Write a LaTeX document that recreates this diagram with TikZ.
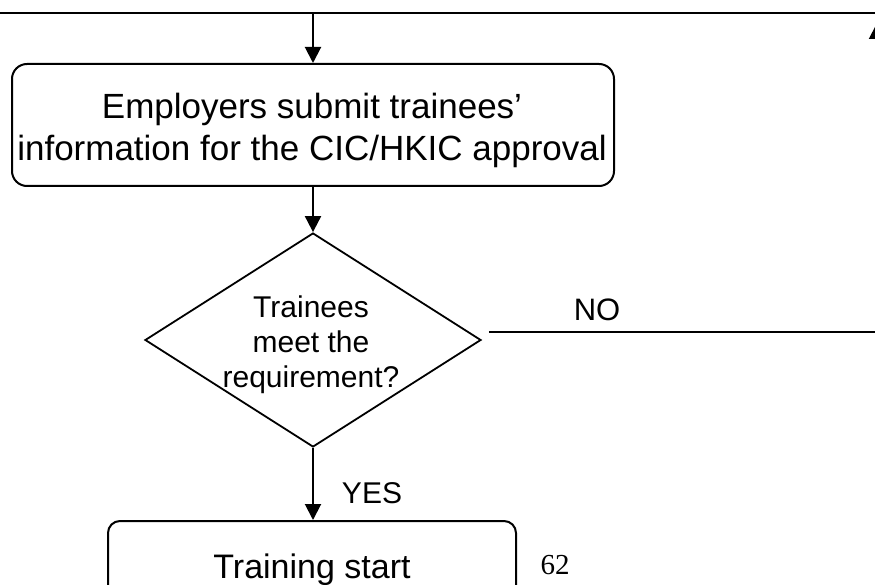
\documentclass[tikz,border=0pt]{standalone}
\usepackage{fontspec}
\setmainfont{Liberation Sans}
\newfontfamily\pagefont{Liberation Serif}
\usetikzlibrary{arrows.meta,shapes.geometric}
\begin{document}
\begin{tikzpicture}[x=1pt,y=-1pt,
  conn/.style={line width=2pt},
  arr/.style={conn,-{Triangle[length=16pt,width=16pt]}},
  procbox/.style={draw,line width=2pt,rounded corners=15pt,inner sep=0pt,align=center},
  decision/.style={draw,diamond,line width=1.8pt,inner sep=0pt,minimum width=336pt,minimum height=214pt},
  lbl/.style={inner sep=0pt,align=center}]
\useasboundingbox (0,0) rectangle (875,585);
\clip (0,0) rectangle (875,585);
\coordinate (topL) at (0,13);
\coordinate (topR) at (875,13);
\coordinate (loop) at (877,23);
\node[procbox,minimum width=602pt,minimum height=122pt] (box1) at (313,125) {};
\node[lbl,font=\fontsize{35}{42}\selectfont] (box1text) at (312,130)
  {Employers submit trainees’\\ information for the CIC/HKIC approval};
\node[decision] (dia) at (313,340) {};
\node[lbl,font=\fontsize{30}{35}\selectfont] (diatext) at (311,345) {Trainees\\ meet the\\ requirement?};
\node[procbox,minimum width=408pt,minimum height=98pt,rounded corners=12pt,font=\fontsize{34}{40}\selectfont] (box2) at (312,570)
  {Training start};
\node[lbl,font=\fontsize{31}{36}\selectfont] (no) at (597,310) {NO};
\node[lbl,font=\fontsize{30}{36}\selectfont] (yes) at (372,493) {YES};
\node[lbl,font=\pagefont\fontsize{29}{34}\selectfont] (page) at (555,565) {62};
\draw[line width=2.5pt] (topL) -- (topR);
\draw[arr] (box1.north |- topL) -- (box1.north);
\draw[arr] (box1.south) -- (dia.north);
\draw[arr] (dia.south) -- (dia.south |- box2.north);
\draw[conn,-{Triangle[length=16pt,width=16pt]}] ([shift={(7,-8)}]dia.east) -| (loop);
\end{tikzpicture}
\end{document}
